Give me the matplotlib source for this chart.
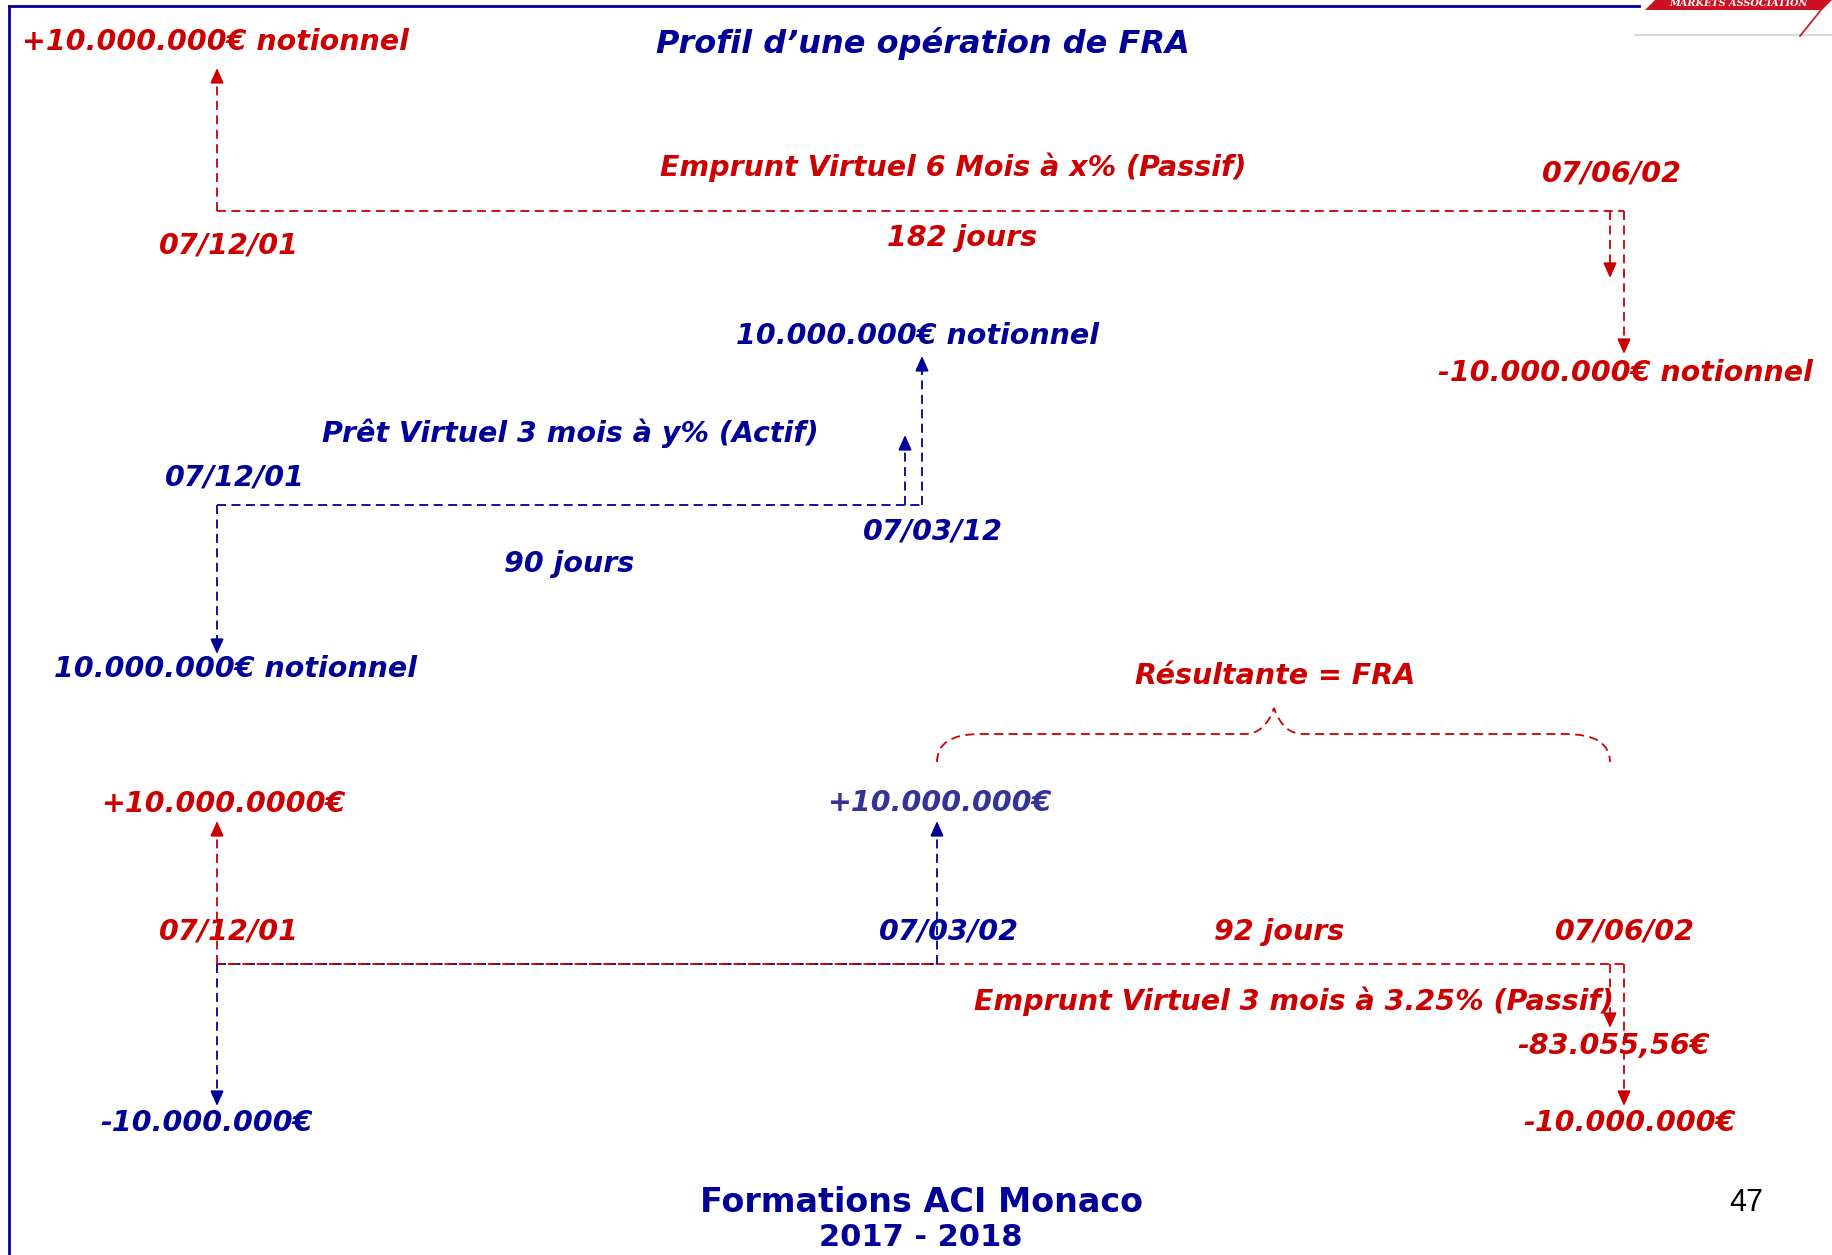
"""
Profil d'une opération de FRA - schéma des flux
"""

import matplotlib.pyplot as plt
from matplotlib.patches import Polygon
from matplotlib.path import Path
from matplotlib.patches import PathPatch

# --- données du schéma ---
title = "Profil d’une opération de FRA"
notional = "10.000.000€"
dates_6m = ["07/12/01", "07/06/02"]
dates_3m_loan = ["07/12/01", "07/03/12"]
dates_fra = ["07/12/01", "07/03/02", "07/06/02"]
days = [182, 90, 92]
legs = [
    "Emprunt Virtuel 6 Mois à x% (Passif)",
    "Prêt Virtuel 3 mois à y% (Actif)",
    "Emprunt Virtuel 3 mois à 3.25% (Passif)",
]
interest = "-83.055,56€"
result_label = "Résultante = FRA"
footer = ["Formations ACI Monaco", "2017 - 2018"]
page_no = "47"

RED = "#cc0000"
BLUE = "#000099"
BLUE_LIGHT = "#333399"
FONT = "DejaVu Sans"

W, H = 1832, 1255
fig = plt.figure(figsize=(W / 100, H / 100), dpi=100)
ax = fig.add_axes([0, 0, 1, 1])
ax.set_xlim(0, W)
ax.set_ylim(H, 0)
ax.axis("off")


def label(x, y, s, color, size=20.5, style="italic", weight="bold", family=FONT):
    ax.text(x, y, s, color=color, fontsize=size, fontstyle=style,
            fontweight=weight, family=family, ha="center", va="center")


def dashed(xs, ys, color, offset=0):
    ax.plot(xs, ys, color=color, lw=1.3, linestyle=(offset, (5, 3)),
            dash_capstyle="butt")


def arrow(x, y0, y1, color):
    # dashed shaft + solid head ending at y1
    sign = 1 if y1 > y0 else -1
    ax.plot([x, x], [y0, y1 - sign * 10], color=color, lw=1.3,
            linestyle=(0, (5, 3)))
    ax.annotate("", xy=(x, y1), xytext=(x, y1 - sign * 12),
                arrowprops=dict(arrowstyle="-|>,head_length=0.9,head_width=0.4",
                                color=color, lw=1.3, shrinkA=0, shrinkB=0))


# cadre et logo
ax.plot([9, 9], [H, 6], color=BLUE, lw=2)
ax.plot([9, 1639], [6, 6], color=BLUE, lw=2)
ax.add_patch(Polygon([(1655, 0), (1832, 0), (1832, 0), (1822, 10), (1645, 10)],
                     closed=True, color="#cc1122", lw=0))
ax.text(1738, 3, "MARKETS ASSOCIATION", color="white", fontsize=7,
        family="DejaVu Serif", fontweight="bold", fontstyle="italic",
        ha="center", va="center")
ax.plot([1635, 1832], [35, 35], color="#d8d8d8", lw=1.5)
ax.plot([1821, 1800], [10, 36], color="#cc1122", lw=1.2)

label(923, 44, title, BLUE, size=23)

# --- emprunt 6 mois ---
arrow(217, 211, 68, RED)
dashed([217, 1624], [211, 211], RED)
arrow(1610, 211, 278, RED)
arrow(1624, 211, 354, RED)
label(215, 42, "+" + notional + " notionnel", RED)
label(953, 167, legs[0], RED)
label(1612, 174, dates_6m[1], RED)
label(229, 245, dates_6m[0], RED)
label(962, 238, f"{days[0]} jours", RED)
label(1625, 373, "-" + notional + " notionnel", RED)

# --- prêt 3 mois ---
dashed([217, 922], [505, 505], BLUE)
arrow(922, 505, 356, BLUE)
arrow(905, 505, 435, BLUE)
arrow(217, 505, 654, BLUE)
label(918, 336, notional + " notionnel", BLUE)
label(570, 433, legs[1], BLUE)
label(235, 478, dates_3m_loan[0], BLUE)
label(933, 532, dates_3m_loan[1], BLUE)
label(569, 564, f"{days[1]} jours", BLUE)
label(236, 669, notional + " notionnel", BLUE)

# --- résultante FRA ---
brace = Path(
    [(937, 762), (937, 734), (980, 734), (980, 734),
     (1245, 734), (1265, 734), (1274, 708),
     (1283, 734), (1303, 734), (1565, 734),
     (1610, 734), (1610, 762)],
    [Path.MOVETO, Path.CURVE3, Path.CURVE3, Path.LINETO,
     Path.LINETO, Path.CURVE3, Path.CURVE3,
     Path.CURVE3, Path.CURVE3, Path.LINETO,
     Path.CURVE3, Path.CURVE3])
ax.add_patch(PathPatch(brace, fill=False, edgecolor=RED, lw=1.3,
                       linestyle=(0, (5, 3))))
label(1275, 676, result_label, RED)

dashed([217, 937], [964, 964], BLUE)
dashed([217, 1624], [964, 964], RED, offset=2)
arrow(217, 964, 821, RED)
arrow(937, 964, 821, BLUE)
arrow(217, 964, 1106, BLUE)
arrow(1610, 964, 1028, RED)
arrow(1624, 964, 1106, RED)
label(224, 804, "+10.000.0000€", RED)
label(940, 803, "+" + notional, BLUE_LIGHT)
label(229, 932, dates_fra[0], RED)
label(949, 932, dates_fra[1], BLUE)
label(1279, 932, f"{days[2]} jours", RED)
label(1625, 932, dates_fra[2], RED)
label(1294, 1001, legs[2], RED)
label(1614, 1046, interest, RED)
label(1630, 1123, "-" + notional, RED)
label(207, 1123, "-" + notional, BLUE)

# pied de page
label(921, 1203, footer[0], BLUE, size=24, style="normal")
label(921, 1238, footer[1], BLUE, size=22, style="normal")
ax.text(1746, 1203, page_no, color="black", fontsize=22,
        family="Liberation Sans", ha="center", va="center")

fig.savefig("out.png", dpi=100)
